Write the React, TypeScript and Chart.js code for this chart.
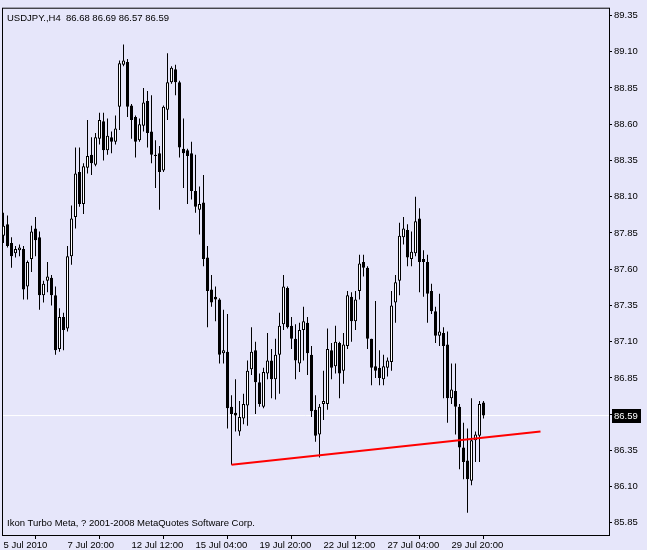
import React, { useEffect, useRef } from "react";
import { Chart, registerables } from "chart.js";

Chart.register(...registerables);

// ---- data (USDJPY H4) ----
const symbolTitle = "USDJPY.,H4";
const footerText = "Ikon Turbo Meta, ? 2001-2008 MetaQuotes Software Corp.";

const opens = [
  87.83, 87.91, 87.78, 87.71, 87.73, 87.74, 87.48, 87.67, 87.88, 87.82,
  87.42, 87.52, 87.54, 87.42, 87.05, 87.27, 87.19, 87.69, 87.96, 88.27,
  88.05, 88.30, 88.39, 88.32, 88.50, 88.62, 88.42, 88.51, 88.48, 88.72,
  89.01, 89.03, 88.73, 88.65, 88.49, 88.59, 88.76, 88.55, 88.39, 88.40,
  88.28, 88.70, 88.89, 88.98, 88.89, 88.43, 88.42, 88.40, 88.14, 88.01,
  88.06, 87.68, 87.46, 87.41, 87.39, 87.02, 87.03, 86.65, 86.61, 86.48,
  86.57, 86.66, 86.91, 87.04, 86.82, 86.65, 86.88, 86.97, 86.84, 87.01,
  87.22, 87.47, 87.21, 87.12, 86.95, 87.18, 87.23, 87.01, 86.63, 86.46,
  86.67, 86.67, 87.04, 86.93, 87.09, 86.90, 87.07, 87.41, 87.24, 87.45,
  87.65, 87.61, 87.12, 86.93, 86.92, 86.84, 86.92, 86.96, 87.37, 87.52,
  87.82, 87.87, 87.67, 87.71, 87.95, 87.67, 87.65, 87.45, 87.31, 87.14,
  87.16, 87.08, 86.71, 86.76, 86.65, 86.37, 86.28, 86.14, 86.42, 86.45,
  86.68,
];
const highs = [
  87.99, 87.97, 87.82, 87.76, 87.77, 87.76, 87.66, 87.90, 87.96, 87.86,
  87.52, 87.65, 87.56, 87.48, 87.33, 87.30, 87.76, 88.04, 88.44, 88.44,
  88.33, 88.63, 88.51, 88.54, 88.68, 88.68, 88.64, 88.55, 88.66, 89.04,
  89.15, 89.05, 88.74, 88.66, 88.64, 88.85, 88.83, 88.80, 88.49, 88.45,
  88.73, 89.09, 89.00, 89.01, 88.90, 88.64, 88.43, 88.48, 88.39, 88.17,
  88.25, 87.76, 87.56, 87.48, 87.40, 87.32, 87.29, 86.73, 86.84, 86.69,
  86.74, 86.97, 87.20, 87.10, 86.88, 86.92, 87.16, 87.05, 87.12, 87.30,
  87.56, 87.48, 87.27, 87.22, 87.23, 87.34, 87.27, 87.07, 86.73, 86.67,
  86.90, 87.19, 87.09, 87.21, 87.10, 87.16, 87.45, 87.44, 87.45, 87.70,
  87.70, 87.62, 87.12, 87.38, 87.04, 87.01, 86.99, 87.45, 87.56, 87.92,
  87.96, 87.91, 87.86, 88.10, 88.02, 87.73, 87.70, 87.50, 87.34, 87.43,
  87.20, 87.17, 86.95, 86.95, 86.67, 86.54, 86.50, 86.71, 86.48, 86.69,
  86.69,
];
const lows = [
  87.78, 87.75, 87.61, 87.68, 87.69, 87.39, 87.39, 87.58, 87.69, 87.32,
  87.37, 87.44, 87.35, 87.01, 87.03, 87.04, 87.17, 87.63, 87.88, 88.03,
  87.98, 88.26, 88.25, 88.31, 88.46, 88.35, 88.39, 88.40, 88.46, 88.56,
  89.00, 88.65, 88.50, 88.37, 88.48, 88.55, 88.44, 88.33, 88.16, 88.01,
  88.27, 88.63, 88.88, 88.80, 88.37, 88.16, 88.05, 88.08, 87.99, 87.84,
  87.62, 87.20, 87.34, 87.24, 86.95, 86.95, 86.50, 86.25, 86.48, 86.45,
  86.53, 86.52, 86.87, 86.60, 86.65, 86.64, 86.84, 86.71, 86.70, 86.74,
  87.18, 87.19, 87.05, 86.84, 86.89, 86.97, 86.87, 86.58, 86.41, 86.30,
  86.56, 86.63, 86.84, 86.88, 86.71, 86.81, 87.05, 87.10, 87.18, 87.39,
  87.55, 87.05, 86.80, 86.85, 86.80, 86.80, 86.86, 86.90, 87.23, 87.42,
  87.77, 87.62, 87.62, 87.69, 87.44, 87.41, 87.23, 87.29, 87.09, 87.07,
  86.71, 86.54, 86.67, 86.46, 86.22, 86.15, 85.92, 86.11, 86.27, 86.27,
  86.57,
];
const closes = [
  87.90, 87.76, 87.69, 87.74, 87.75, 87.46, 87.65, 87.86, 87.80, 87.42,
  87.50, 87.55, 87.42, 87.04, 87.27, 87.18, 87.69, 87.95, 88.26, 88.05,
  88.31, 88.38, 88.33, 88.51, 88.63, 88.42, 88.52, 88.48, 88.57, 89.02,
  89.04, 88.72, 88.63, 88.48, 88.60, 88.75, 88.54, 88.39, 88.38, 88.27,
  88.72, 88.89, 88.99, 88.89, 88.44, 88.40, 88.38, 88.14, 88.03, 88.05,
  87.67, 87.45, 87.37, 87.39, 87.01, 87.04, 86.64, 86.60, 86.59, 86.58,
  86.67, 86.90, 87.03, 86.82, 86.67, 86.89, 86.97, 86.84, 87.01, 87.21,
  87.48, 87.20, 87.12, 86.97, 87.18, 87.24, 87.02, 86.62, 86.45, 86.65,
  86.69, 87.05, 86.92, 87.10, 86.88, 87.08, 87.42, 87.24, 87.39, 87.64,
  87.61, 87.12, 86.92, 86.90, 86.85, 86.93, 86.97, 87.35, 87.51, 87.83,
  87.88, 87.68, 87.72, 87.93, 87.65, 87.65, 87.43, 87.31, 87.14, 87.17,
  87.07, 86.71, 86.77, 86.65, 86.37, 86.27, 86.15, 86.42, 86.46, 86.67,
  86.59,
];

// time axis labels: bar index -> label
const dateTickBars = [0, 16, 32, 48, 64, 80, 96, 112];
const dateTickLabels = [
  "5 Jul 2010", "7 Jul 20:00", "12 Jul 12:00", "15 Jul 04:00",
  "19 Jul 20:00", "22 Jul 12:00", "27 Jul 04:00", "29 Jul 20:00",
];

// price axis labels
const priceTicks = [
  85.85, 86.1, 86.35, 86.6, 86.85, 87.1, 87.35, 87.6, 87.85, 88.1, 88.35,
  88.6, 88.85, 89.1, 89.35,
];

// red trend line (bar index, price)
const trendBars = [57, 134.25];
const trendPrices = [86.25, 86.48];

// visible window
const xMin = -0.375;
const xMax = 151.375;
const yMin = 85.766;
const yMax = 89.404;

const BG = "#E6E6FA";
const FONT_FAMILY = "'Liberation Sans', Arial, sans-serif";
const FONT_SIZE = 9.5;

export default function App() {
  const ref = useRef<HTMLCanvasElement | null>(null);

  useEffect(() => {
    const canvas = ref.current;
    if (!canvas) return;
    document.body.style.background = BG;

    const bars = opens.map((_, i) => i);
    const bodyData = bars.map((i) => ({ x: i, y: [opens[i], closes[i]] }));
    const wickData = bars.map((i) => ({ x: i, y: [lows[i], highs[i]] }));
    const last = closes.length - 1;
    const lastClose = closes[last];
    const header =
      symbolTitle +
      "  " +
      [opens[last], highs[last], lows[last], closes[last]]
        .map((v) => v.toFixed(2))
        .join(" ");

    const mtPlugin = {
      id: "mtDecor",
      beforeDraw(chart: any) {
        const { ctx, width, height } = chart;
        ctx.save();
        ctx.fillStyle = BG;
        ctx.fillRect(0, 0, width, height);
        ctx.restore();
      },
      afterDraw(chart: any) {
        const { ctx, chartArea: a, scales } = chart;
        ctx.save();
        ctx.strokeStyle = "#000";
        ctx.lineWidth = 1;
        ctx.strokeRect(a.left + 0.5, a.top + 0.5, a.right - a.left, a.bottom - a.top);
        ctx.font = `${FONT_SIZE}px ${FONT_FAMILY}`;
        ctx.fillStyle = "#000";
        ctx.textBaseline = "alphabetic";
        ctx.textAlign = "left";
        ctx.fillText(header, a.left + 5, a.top + 13);
        ctx.fillText(footerText, a.left + 5, a.bottom - 9);
        const y = scales.y.getPixelForValue(lastClose);
        ctx.fillStyle = "#000";
        ctx.fillRect(a.right + 3, Math.round(y) - 7, 29, 14);
        ctx.fillStyle = "#fff";
        ctx.textBaseline = "middle";
        ctx.fillText(lastClose.toFixed(2), a.right + 5, Math.round(y));
        ctx.restore();
      },
    };

    const font = { family: FONT_FAMILY, size: FONT_SIZE };

    const chart = new Chart(canvas, {
      type: "bar",
      data: {
        datasets: [
          {
            type: "line",
            data: trendBars.map((b, k) => ({ x: b, y: trendPrices[k] })),
            borderColor: "#FF0000",
            borderWidth: 2,
            pointRadius: 0,
            order: 0,
          } as any,
          {
            type: "bar",
            data: bodyData,
            backgroundColor: (c: any) =>
              closes[c.dataIndex] >= opens[c.dataIndex] ? "#FFFFFF" : "#000000",
            borderColor: "#000000",
            borderWidth: 1,
            borderSkipped: false,
            barThickness: 3,
            minBarLength: 1,
            grouped: false,
            inflateAmount: 0,
            order: 1,
          } as any,
          {
            type: "bar",
            data: wickData,
            backgroundColor: "#000000",
            borderWidth: 0,
            barThickness: 1,
            grouped: false,
            inflateAmount: 0,
            order: 2,
          } as any,
          {
            type: "line",
            data: [
              { x: xMin, y: lastClose },
              { x: xMax, y: lastClose },
            ],
            borderColor: "#FFFFFF",
            borderWidth: 1,
            pointRadius: 0,
            order: 3,
          } as any,
        ],
      },
      options: {
        responsive: false,
        animation: false,
        devicePixelRatio: 1,
        layout: { padding: { left: 2, top: 2, right: 0, bottom: 0 } },
        plugins: {
          legend: { display: false },
          tooltip: { enabled: false },
        },
        scales: {
          x: {
            type: "linear",
            min: xMin,
            max: xMax,
            offset: false,
            grid: {
              display: true,
              drawOnChartArea: false,
              drawTicks: true,
              tickLength: 4,
              color: "#000",
            },
            border: { display: false },
            ticks: {
              autoSkip: false,
              maxRotation: 0,
              minRotation: 0,
              align: "start",
              padding: 1,
              color: "#000",
              font,
              callback: (v: any) => {
                const k = dateTickBars.indexOf(Number(v));
                return k >= 0 ? dateTickLabels[k] : "";
              },
            },
            afterBuildTicks: (s: any) => {
              s.ticks = dateTickBars.map((v) => ({ value: v }));
            },
            afterFit: (s: any) => {
              s.height = 15;
            },
          },
          y: {
            type: "linear",
            position: "right",
            min: yMin,
            max: yMax,
            grid: {
              display: true,
              drawOnChartArea: false,
              drawTicks: true,
              tickLength: 3,
              color: "#000",
            },
            border: { display: false },
            ticks: {
              autoSkip: false,
              padding: 2,
              color: "#000",
              font,
              callback: (v: any) => Number(v).toFixed(2),
            },
            afterBuildTicks: (s: any) => {
              s.ticks = priceTicks.map((v) => ({ value: v }));
            },
            afterFit: (s: any) => {
              s.width = 38;
            },
          },
        },
      } as any,
      plugins: [mtPlugin],
    });

    return () => chart.destroy();
  }, []);

  return (
    <canvas
      ref={ref}
      width={647}
      height={550}
      style={{ position: "fixed", left: 0, top: 0, width: 647, height: 550 }}
    />
  );
}
